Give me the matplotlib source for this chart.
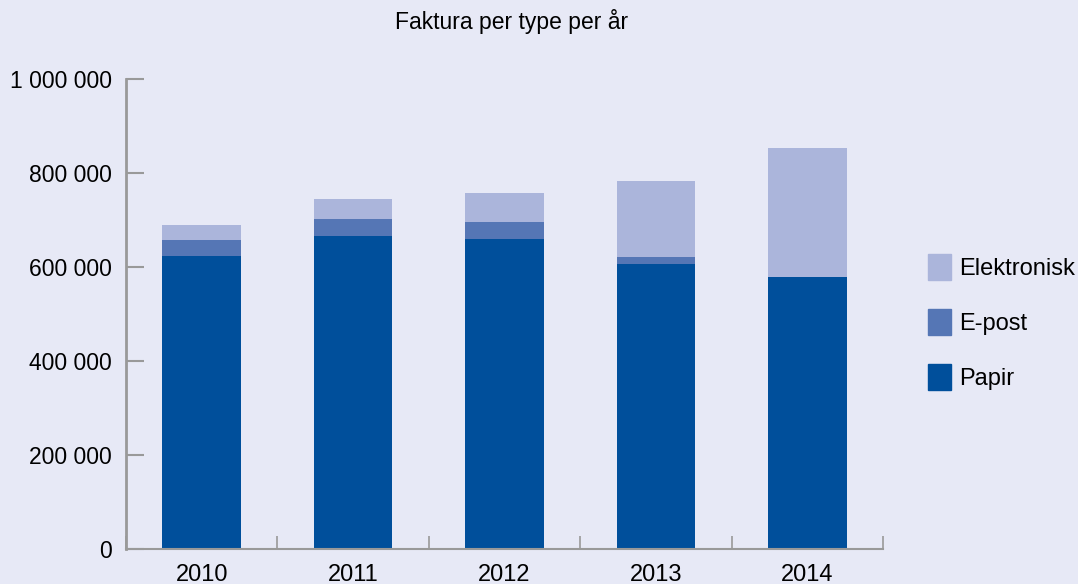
import matplotlib
matplotlib.use("Agg")
import matplotlib.pyplot as plt
import numpy as np
from matplotlib.patches import Patch

years = ["2010", "2011", "2012", "2013", "2014"]
papir = [624000, 667000, 659000, 607000, 578000]
epost = [34000, 36000, 36000, 15000, 0]
elektronisk = [32000, 41000, 62000, 160000, 275000]

bg = "#E7E9F6"
c_papir = "#004F9B"
c_epost = "#5576B5"
c_elek = "#ABB5DB"
axis_col = "#999999"

plt.rcParams["font.family"] = ["Liberation Sans", "DejaVu Sans"]

fig = plt.figure(figsize=(10.78, 5.84), dpi=100, facecolor=bg)
ax = fig.add_axes([126/1078, 1-549/584, (883-126)/1078, (549-79)/584])
ax.set_facecolor(bg)

x = np.arange(len(years))
w = 0.52
p = np.array(papir)
e = np.array(epost)
el = np.array(elektronisk)
ax.bar(x, p, w, color=c_papir)
ax.bar(x, e, w, bottom=p, color=c_epost)
ax.bar(x, el, w, bottom=p+e, color=c_elek)

ax.set_xlim(-0.5, len(years)-0.5)
ax.set_ylim(0, 1000000)
yt = [0, 200000, 400000, 600000, 800000, 1000000]
ax.set_yticks(yt)
ax.set_yticklabels(["{:,}".format(v).replace(",", " ") for v in yt], fontsize=16.5)
ax.tick_params(axis="y", direction="in", length=13, width=1.5, color=axis_col, pad=10)

# category ticks at boundaries, labels centered
ax.set_xticks(np.arange(len(years)+1)-0.5)
ax.set_xticklabels([])
ax.set_xticks(x, minor=True)
ax.set_xticklabels(years, minor=True, fontsize=17)
ax.tick_params(axis="x", which="major", direction="in", length=9.5, width=1.2, color=axis_col)
ax.tick_params(axis="x", which="minor", length=0, pad=10.5)

for s in ["top", "right"]:
    ax.spines[s].set_visible(False)
ax.spines["left"].set_color(axis_col)
ax.spines["left"].set_linewidth(2)
ax.spines["bottom"].set_color(axis_col)
ax.spines["bottom"].set_linewidth(1.5)

fig.text(512/1078, 1-22/584, "Faktura per type per år", ha="center", va="center",
         fontsize=16.5)

handles = [Patch(color=c_elek, label="Elektronisk"),
           Patch(color=c_epost, label="E-post"),
           Patch(color=c_papir, label="Papir")]
fig.legend(handles=handles, loc="center left", bbox_to_anchor=(907/1078, 1-322/584),
           frameon=False, handlelength=0.95, handleheight=1.3,
           labelspacing=1.25, handletextpad=0.35, prop={"size": 17})

fig.savefig("out.png", dpi=100, facecolor=bg)
